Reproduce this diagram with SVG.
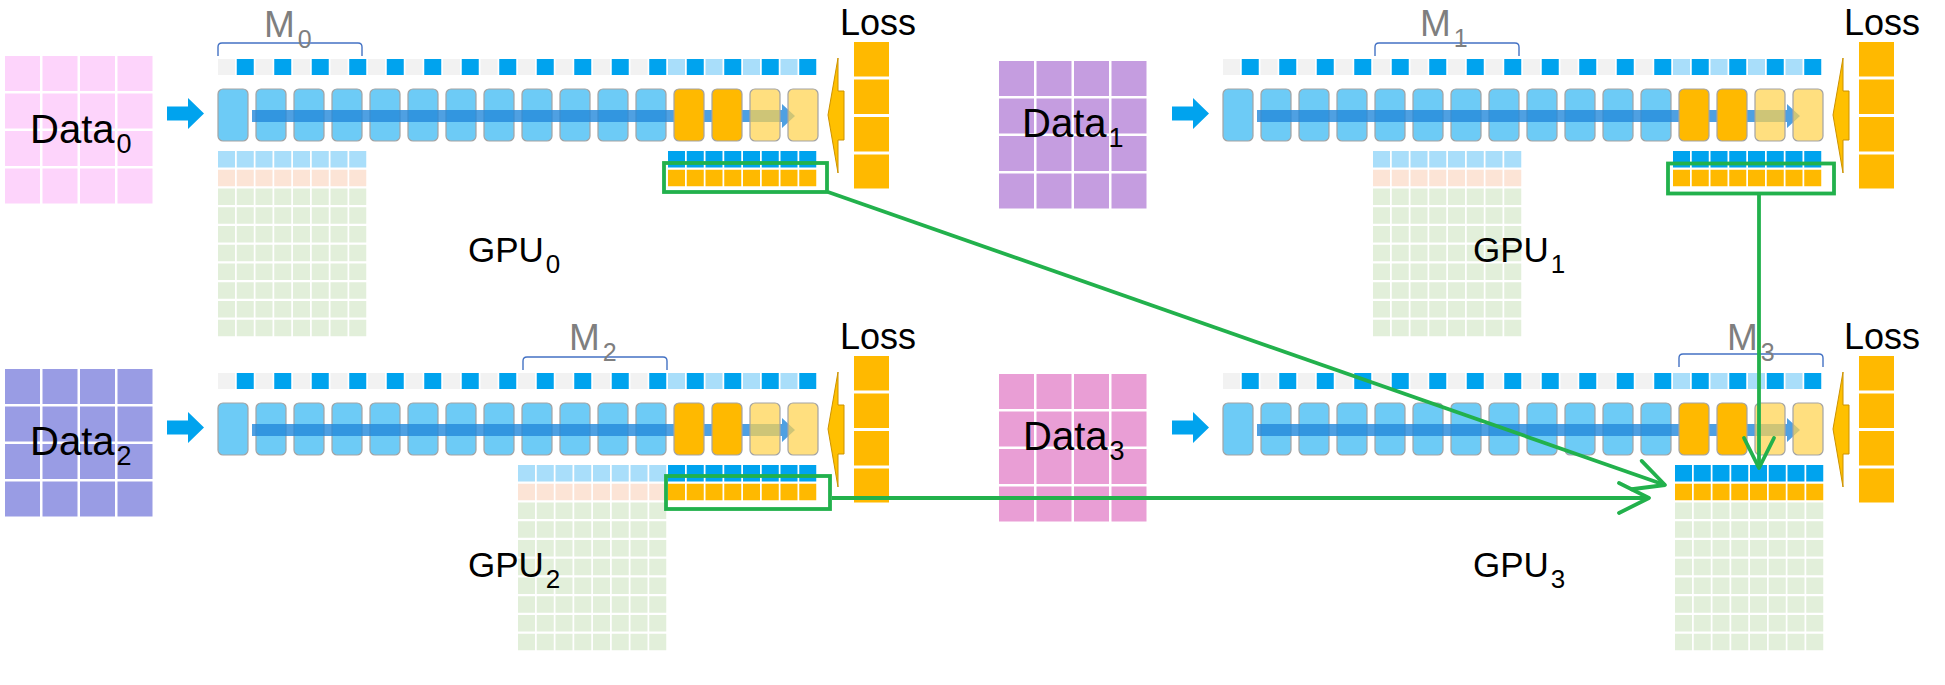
<svg xmlns="http://www.w3.org/2000/svg" xmlns:xlink="http://www.w3.org/1999/xlink" width="1945" height="685" viewBox="0 0 1945 685">
<style>
  text { font-family: "Liberation Sans", Arial, sans-serif; }
  .data { font-size: 40px; fill: #000; }
  .dsub { font-size: 27px; }
  .lbl { font-size: 36px; fill: #000; }
  .gl { font-size: 35px; fill: #000; }
  .lsub { font-size: 26px; }
  .mt { font-size: 37px; fill: #7F7F7F; }
  .msub { font-size: 25px; }
  .g { fill: #F2F2F2; }
  .b { fill: #00A3EE; }
  .lb { fill: #A9DEFA; }
  .blk { fill: #6DCBF6; stroke: #A3A3A3; stroke-width: 1.2; }
  .org { fill: #FFB900; stroke: #A3A3A3; stroke-width: 1.2; }
  .lorg { fill: #FFD24D; fill-opacity: 0.72; stroke: #A3A3A3; stroke-width: 1.2; }
  .bar { fill: #2388DB; fill-opacity: 0.8; }
  .inarrow { fill: #00A3EE; }
  .brk { fill: none; stroke: #4472C4; stroke-width: 1.4; }
  .lossc { fill: #FFB900; }
  .larrow { fill: #FFC000; stroke: #CC9200; stroke-width: 1; }
  .hl { fill: none; stroke: #22B14C; stroke-width: 3.8; }
  .conn { fill: none; stroke: #22B14C; stroke-width: 3.8; }
</style>
<defs>
  <marker id="vhead" markerUnits="userSpaceOnUse" markerWidth="60" markerHeight="60" viewBox="-40 -30 60 60" refX="0" refY="0" orient="auto" overflow="visible">
    <path d="M-30,-15 L0,0 L-30,15" fill="none" stroke="#22B14C" stroke-width="3.8" stroke-linecap="round" stroke-linejoin="round"/>
  </marker>
  <g id="sqrow">
    <rect class="g" x="218" y="59" width="17" height="16"/>
    <rect class="g" x="255.5" y="59" width="17" height="16"/>
    <rect class="g" x="293" y="59" width="17" height="16"/>
    <rect class="g" x="330.5" y="59" width="17" height="16"/>
    <rect class="g" x="368" y="59" width="17" height="16"/>
    <rect class="g" x="405.5" y="59" width="17" height="16"/>
    <rect class="g" x="443" y="59" width="17" height="16"/>
    <rect class="g" x="480.5" y="59" width="17" height="16"/>
    <rect class="g" x="518" y="59" width="17" height="16"/>
    <rect class="g" x="555.5" y="59" width="17" height="16"/>
    <rect class="g" x="593" y="59" width="17" height="16"/>
    <rect class="g" x="630.5" y="59" width="17" height="16"/>
    <rect class="lb" x="668" y="59" width="17" height="16"/>
    <rect class="lb" x="705.5" y="59" width="17" height="16"/>
    <rect class="lb" x="743" y="59" width="17" height="16"/>
    <rect class="lb" x="780.5" y="59" width="17" height="16"/>
    <rect class="b" x="236.75" y="59" width="17" height="16"/>
    <rect class="b" x="274.25" y="59" width="17" height="16"/>
    <rect class="b" x="311.75" y="59" width="17" height="16"/>
    <rect class="b" x="349.25" y="59" width="17" height="16"/>
    <rect class="b" x="386.75" y="59" width="17" height="16"/>
    <rect class="b" x="424.25" y="59" width="17" height="16"/>
    <rect class="b" x="461.75" y="59" width="17" height="16"/>
    <rect class="b" x="499.25" y="59" width="17" height="16"/>
    <rect class="b" x="536.75" y="59" width="17" height="16"/>
    <rect class="b" x="574.25" y="59" width="17" height="16"/>
    <rect class="b" x="611.75" y="59" width="17" height="16"/>
    <rect class="b" x="649.25" y="59" width="17" height="16"/>
    <rect class="b" x="686.75" y="59" width="17" height="16"/>
    <rect class="b" x="724.25" y="59" width="17" height="16"/>
    <rect class="b" x="761.75" y="59" width="17" height="16"/>
    <rect class="b" x="799.25" y="59" width="17" height="16"/>
  </g>
  <g id="blocks">
    <rect class="blk" x="218" y="89" width="30" height="52" rx="5"/>
    <rect class="blk" x="256" y="89" width="30" height="52" rx="5"/>
    <rect class="blk" x="294" y="89" width="30" height="52" rx="5"/>
    <rect class="blk" x="332" y="89" width="30" height="52" rx="5"/>
    <rect class="blk" x="370" y="89" width="30" height="52" rx="5"/>
    <rect class="blk" x="408" y="89" width="30" height="52" rx="5"/>
    <rect class="blk" x="446" y="89" width="30" height="52" rx="5"/>
    <rect class="blk" x="484" y="89" width="30" height="52" rx="5"/>
    <rect class="blk" x="522" y="89" width="30" height="52" rx="5"/>
    <rect class="blk" x="560" y="89" width="30" height="52" rx="5"/>
    <rect class="blk" x="598" y="89" width="30" height="52" rx="5"/>
    <rect class="blk" x="636" y="89" width="30" height="52" rx="5"/>
    <path class="bar" d="M252,110 H782 V104 L795,116 L782,128 V122 H252 Z"/>
    <rect class="org" x="674" y="89" width="30" height="52" rx="5"/>
    <rect class="org" x="712" y="89" width="30" height="52" rx="5"/>
    <rect class="lorg" x="750" y="89" width="30" height="52" rx="5"/>
    <rect class="lorg" x="788" y="89" width="30" height="52" rx="5"/>
  </g>
  <g id="r8">
    <rect x="0" y="0" width="17" height="16.5"/>
    <rect x="18.75" y="0" width="17" height="16.5"/>
    <rect x="37.5" y="0" width="17" height="16.5"/>
    <rect x="56.25" y="0" width="17" height="16.5"/>
    <rect x="75" y="0" width="17" height="16.5"/>
    <rect x="93.75" y="0" width="17" height="16.5"/>
    <rect x="112.5" y="0" width="17" height="16.5"/>
    <rect x="131.25" y="0" width="17" height="16.5"/>
  </g>
  <g id="g8x8">
    <use href="#r8" y="0"/>
    <use href="#r8" y="18.75"/>
    <use href="#r8" y="37.5"/>
    <use href="#r8" y="56.25"/>
    <use href="#r8" y="75"/>
    <use href="#r8" y="93.75"/>
    <use href="#r8" y="112.5"/>
    <use href="#r8" y="131.25"/>
  </g>
  <g id="d4">
    <rect x="0" y="0" width="35" height="35"/><rect x="37.5" y="0" width="35" height="35"/><rect x="75" y="0" width="35" height="35"/><rect x="112.5" y="0" width="35" height="35"/>
    <rect x="0" y="37.5" width="35" height="35"/><rect x="37.5" y="37.5" width="35" height="35"/><rect x="75" y="37.5" width="35" height="35"/><rect x="112.5" y="37.5" width="35" height="35"/>
    <rect x="0" y="75" width="35" height="35"/><rect x="37.5" y="75" width="35" height="35"/><rect x="75" y="75" width="35" height="35"/><rect x="112.5" y="75" width="35" height="35"/>
    <rect x="0" y="112.5" width="35" height="35"/><rect x="37.5" y="112.5" width="35" height="35"/><rect x="75" y="112.5" width="35" height="35"/><rect x="112.5" y="112.5" width="35" height="35"/>
  </g>
  <g id="lossCol">
    <polygon class="larrow" points="828,115 838,58 838,91 844,91 844,140 838,140 838,173"/>
    <rect class="lossc" x="854" y="42" width="35" height="34.5"/>
    <rect class="lossc" x="854" y="79.5" width="35" height="34.5"/>
    <rect class="lossc" x="854" y="117" width="35" height="34.5"/>
    <rect class="lossc" x="854" y="154.5" width="35" height="34"/>
  </g>
  <path id="inArrow" class="inarrow" d="M167,106.5 H188 V98 L204,113.5 L188,129 V120.5 H167 Z"/>
  <path id="brk" d="M0,13 V4 Q0,0 4,0 H140 Q144,0 144,4 V13"/>
</defs>

<rect x="0" y="0" width="1945" height="685" fill="#FFFFFF"/>

<!-- GPU0 -->
<g id="gpu0">
  <use href="#d4" x="5" y="56" fill="#FDD4FB"/>
  <text class="data" x="30" y="143">Data<tspan class="dsub" dx="2" dy="10">0</tspan></text>
  <use href="#inArrow"/>
  <use href="#sqrow"/>
  <use href="#blocks"/>
  <use href="#brk" x="218" y="43" class="brk"/>
  <text class="mt" x="264" y="37">M<tspan class="msub" dx="3" dy="11">0</tspan></text>
  <use href="#r8" x="218" y="151" fill="#A9DEFA"/>
  <use href="#r8" x="218" y="169.75" fill="#FCE4D6"/>
  <use href="#g8x8" x="218" y="188.5" fill="#E2EFDA"/>
  <use href="#r8" x="668" y="151" fill="#00A3EE"/>
  <use href="#r8" x="668" y="169.75" fill="#FFB900"/>
  <use href="#lossCol"/>
  <text class="lbl" x="840" y="35">Loss</text>
  <text class="gl" x="468" y="262">GPU<tspan class="lsub" dx="2" dy="11">0</tspan></text>
  <rect class="hl" x="664" y="163" width="163" height="29"/>
</g>

<!-- GPU1 -->
<g id="gpu1">
  <use href="#d4" x="999" y="61" fill="#C59DE0"/>
  <text class="data" x="1022" y="137">Data<tspan class="dsub" dx="2" dy="10">1</tspan></text>
  <g transform="translate(1005,0)">
    <use href="#inArrow"/>
    <use href="#sqrow"/>
    <use href="#blocks"/>
    <use href="#brk" x="370" y="43" class="brk"/>
    <text class="mt" x="415" y="36">M<tspan class="msub" dx="3" dy="11">1</tspan></text>
    <use href="#r8" x="368" y="151" fill="#A9DEFA"/>
    <use href="#r8" x="368" y="169.75" fill="#FCE4D6"/>
    <use href="#g8x8" x="368" y="188.5" fill="#E2EFDA"/>
    <use href="#r8" x="668" y="151" fill="#00A3EE"/>
    <use href="#r8" x="668" y="169.75" fill="#FFB900"/>
    <use href="#lossCol"/>
    <text class="lbl" x="839" y="35">Loss</text>
    <text class="gl" x="468" y="262">GPU<tspan class="lsub" dx="2" dy="11">1</tspan></text>
    <rect class="hl" x="663" y="163.5" width="166" height="30"/>
  </g>
</g>

<!-- GPU2 -->
<g id="gpu2">
  <use href="#d4" x="5" y="369" fill="#999CE4"/>
  <text class="data" x="30" y="455">Data<tspan class="dsub" dx="2" dy="10">2</tspan></text>
  <g transform="translate(0,314)">
    <use href="#inArrow"/>
    <use href="#sqrow"/>
    <use href="#blocks"/>
    <use href="#brk" x="523" y="43" class="brk"/>
    <text class="mt" x="569" y="36">M<tspan class="msub" dx="3" dy="11">2</tspan></text>
    <use href="#r8" x="518" y="151" fill="#A9DEFA"/>
    <use href="#r8" x="518" y="169.75" fill="#FCE4D6"/>
    <use href="#g8x8" x="518" y="188.5" fill="#E2EFDA"/>
    <use href="#r8" x="668" y="151" fill="#00A3EE"/>
    <use href="#r8" x="668" y="169.75" fill="#FFB900"/>
    <use href="#lossCol"/>
    <text class="lbl" x="840" y="35">Loss</text>
    <text class="gl" x="468" y="263">GPU<tspan class="lsub" dx="2" dy="11">2</tspan></text>
    <rect class="hl" x="666" y="162" width="164" height="33"/>
  </g>
</g>

<!-- GPU3 -->
<g id="gpu3">
  <use href="#d4" x="999" y="374" fill="#E99ED5"/>
  <text class="data" x="1023" y="450">Data<tspan class="dsub" dx="2" dy="10">3</tspan></text>
  <g transform="translate(1005,314)">
    <use href="#inArrow"/>
    <use href="#sqrow"/>
    <use href="#blocks"/>
    <use href="#brk" x="674" y="40" class="brk"/>
    <text class="mt" x="722" y="36">M<tspan class="msub" dx="3" dy="11">3</tspan></text>
    <use href="#r8" x="670" y="151" fill="#00A3EE"/>
    <use href="#r8" x="670" y="169.75" fill="#FFB900"/>
    <use href="#g8x8" x="670" y="188.5" fill="#E2EFDA"/>
    <use href="#lossCol"/>
    <text class="lbl" x="839" y="35">Loss</text>
    <text class="gl" x="468" y="263">GPU<tspan class="lsub" dx="2" dy="11">3</tspan></text>
  </g>
</g>

<!-- connectors -->
<g id="connectors">
  <path class="conn" d="M828,192 L1665,485" marker-end="url(#vhead)"/>
  <path class="conn" d="M832,498 L1649,498" marker-end="url(#vhead)"/>
  <path class="conn" d="M1759,195 L1759,468" marker-end="url(#vhead)"/>
</g>
</svg>
